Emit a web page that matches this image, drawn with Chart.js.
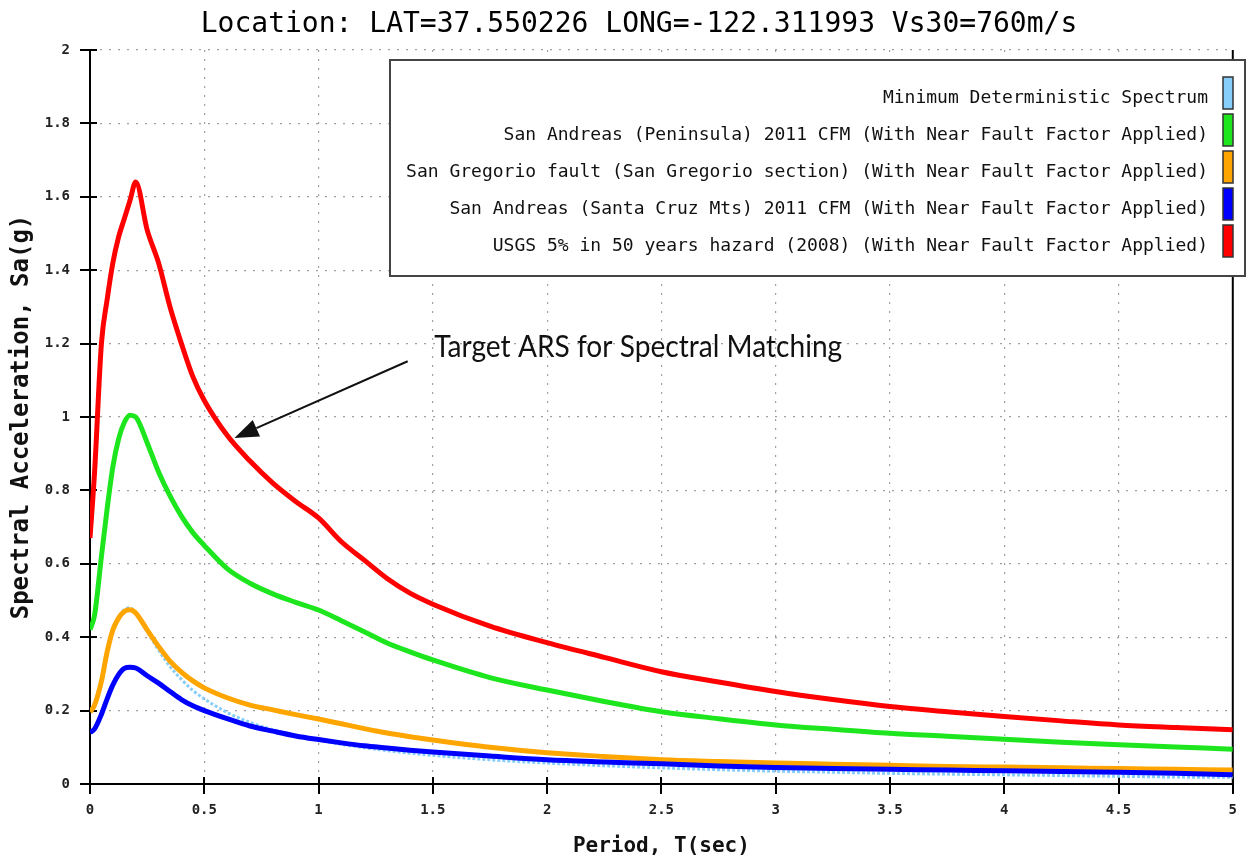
<!DOCTYPE html>
<html><head><meta charset="utf-8">
<script src="https://cdn.jsdelivr.net/npm/chart.js@4.4.1/dist/chart.umd.min.js"></script>
<style>html,body{margin:0;padding:0;background:#fff;}</style>
</head><body>
<canvas id="c" width="1255" height="861"></canvas>
<script>
// ---- DATA ----
const chartTitle = 'Location: LAT=37.550226 LONG=-122.311993 Vs30=760m/s';
const xAxisTitle = 'Period, T(sec)';
const yAxisTitle = 'Spectral Acceleration, Sa(g)';
const xTickValues = [0, 0.5, 1, 1.5, 2, 2.5, 3, 3.5, 4, 4.5, 5];
const yTickValues = [0, 0.2, 0.4, 0.6, 0.8, 1, 1.2, 1.4, 1.6, 1.8, 2];

const periods = [0, 0.02, 0.05, 0.075, 0.1, 0.125, 0.15, 0.175, 0.2, 0.25, 0.3, 0.35, 0.4, 0.45, 0.5,
  0.6, 0.7, 0.8, 0.9, 1.0, 1.1, 1.2, 1.3, 1.4, 1.5, 1.75, 2.0, 2.25, 2.5, 2.75, 3.0, 3.25, 3.5, 3.75,
  4.0, 4.25, 4.5, 4.75, 5.0];

const seriesLabels = [
  'Minimum Deterministic Spectrum',
  'San Andreas (Peninsula) 2011 CFM (With Near Fault Factor Applied)',
  'San Gregorio fault (San Gregorio section) (With Near Fault Factor Applied)',
  'San Andreas (Santa Cruz Mts) 2011 CFM (With Near Fault Factor Applied)',
  'USGS 5% in 50 years hazard (2008) (With Near Fault Factor Applied)'
];

const minDeterministic = [0.20, 0.22, 0.29, 0.36, 0.42, 0.455, 0.475, 0.48, 0.465, 0.415, 0.365, 0.32, 0.285, 0.255, 0.232,
  0.195, 0.168, 0.148, 0.132, 0.12, 0.108, 0.099, 0.091, 0.084, 0.078, 0.066, 0.057, 0.05, 0.044, 0.039, 0.035, 0.032, 0.029, 0.027,
  0.025, 0.023, 0.021, 0.019, 0.018];
const sanAndreasPeninsula = [0.42, 0.46, 0.62, 0.75, 0.864, 0.94, 0.985, 1.005, 1.0, 0.93, 0.85, 0.785, 0.73, 0.685, 0.65,
  0.587, 0.547, 0.518, 0.495, 0.474, 0.445, 0.415, 0.384, 0.36, 0.338, 0.29, 0.256, 0.225, 0.197, 0.178, 0.161, 0.149, 0.138, 0.13,
  0.122, 0.114, 0.107, 0.101, 0.095];
const sanGregorio = [0.196, 0.215, 0.28, 0.36, 0.42, 0.452, 0.47, 0.475, 0.466, 0.42, 0.375, 0.335, 0.305, 0.281, 0.262,
  0.235, 0.215, 0.202, 0.189, 0.177, 0.164, 0.151, 0.139, 0.129, 0.12, 0.10, 0.085, 0.075, 0.066, 0.061, 0.057, 0.054, 0.051, 0.048,
  0.046, 0.044, 0.042, 0.04, 0.038];
const sanAndreasSantaCruz = [0.14, 0.15, 0.19, 0.232, 0.27, 0.298, 0.315, 0.318, 0.316, 0.295, 0.275, 0.252, 0.23, 0.213, 0.20,
  0.178, 0.158, 0.144, 0.131, 0.121, 0.112, 0.104, 0.098, 0.092, 0.087, 0.076, 0.066, 0.06, 0.055, 0.049, 0.045, 0.042, 0.04, 0.038,
  0.036, 0.034, 0.032, 0.029, 0.025];
const usgsHazard = [0.67, 0.85, 1.20, 1.32, 1.42, 1.49, 1.54, 1.59, 1.64, 1.51, 1.42, 1.30, 1.20, 1.11, 1.045,
  0.95, 0.88, 0.82, 0.77, 0.725, 0.66, 0.61, 0.56, 0.52, 0.49, 0.43, 0.385, 0.345, 0.306, 0.278, 0.252, 0.23, 0.211, 0.197,
  0.184, 0.172, 0.161, 0.154, 0.148];

const annotationText = 'Target ARS for Spectral Matching';
const annotationTextAt = [1.506, 1.163];   // [T, Sa] of text baseline start
const arrowFrom = [1.39, 1.152];
const arrowTo = [0.632, 0.943];

// ---- STYLES ----
const MONO = '"DejaVu Sans Mono", "Liberation Mono", monospace';
const colors = ['#87cefa', '#1ee61e', '#ffa500', '#0000ff', '#ff0000'];
const seriesValues = [minDeterministic, sanAndreasPeninsula, sanGregorio, sanAndreasSantaCruz, usgsHazard];
const drawOrder = [10, 4, 3, 2, 1];

const datasets = seriesValues.map((vals, i) => ({
  label: seriesLabels[i],
  data: periods.map((t, k) => ({x: t, y: vals[k]})),
  borderColor: colors[i],
  backgroundColor: colors[i],
  borderWidth: i === 0 ? 3 : 5,
  borderDash: i === 0 ? [3, 2] : [],
  pointRadius: 0,
  fill: false,
  cubicInterpolationMode: 'monotone',
  order: drawOrder[i]
}));

const decorPlugin = {
  id: 'decor',
  beforeDatasetsDraw(chart) {
    const {ctx, chartArea: a, scales: {x, y}} = chart;
    ctx.save();
    ctx.strokeStyle = '#000';
    ctx.lineWidth = 2;
    ctx.beginPath();
    ctx.moveTo(a.right, a.top); ctx.lineTo(a.right, a.bottom);
    ctx.stroke();
    ctx.beginPath();
    yTickValues.forEach(v => {
      const py = Math.round(y.getPixelForValue(v));
      ctx.moveTo(a.left - 10, py); ctx.lineTo(a.left + 7, py);
    });
    xTickValues.forEach(v => {
      const px = Math.round(x.getPixelForValue(v));
      ctx.moveTo(px, a.bottom - 7); ctx.lineTo(px, a.bottom + 10);
    });
    ctx.stroke();
    ctx.restore();
  },
  afterDatasetsDraw(chart) {
    const {ctx, scales: {x, y}} = chart;
    ctx.save();
    const bx = 390, by = 60, bw = 855, bh = 216;
    ctx.fillStyle = '#fff';
    ctx.fillRect(bx, by, bw, bh);
    ctx.strokeStyle = '#444';
    ctx.lineWidth = 2;
    ctx.strokeRect(bx, by, bw, bh);
    ctx.font = '18px ' + MONO;
    ctx.textAlign = 'right';
    ctx.textBaseline = 'middle';
    chart.data.datasets.forEach((ds, i) => {
      const cy = 98 + i * 37;
      ctx.fillStyle = '#111';
      ctx.fillText(ds.label, 1208, cy);
      ctx.fillStyle = ds.borderColor;
      ctx.fillRect(1223, cy - 21, 10, 32);
      ctx.strokeStyle = '#333';
      ctx.lineWidth = 1.5;
      ctx.strokeRect(1223, cy - 21, 10, 32);
    });
    const tx = x.getPixelForValue(annotationTextAt[0]);
    const ty = y.getPixelForValue(annotationTextAt[1]);
    ctx.font = '30px Lato, "Open Sans", sans-serif';
    ctx.textAlign = 'left';
    ctx.textBaseline = 'alphabetic';
    const w = ctx.measureText(annotationText).width;
    const sx = 408 / w;
    ctx.save();
    ctx.translate(tx, ty);
    ctx.scale(sx, 1);
    ctx.fillStyle = '#111';
    ctx.fillText(annotationText, 0, 0);
    ctx.restore();
    const x1 = x.getPixelForValue(arrowFrom[0]), y1 = y.getPixelForValue(arrowFrom[1]);
    const x2 = x.getPixelForValue(arrowTo[0]), y2 = y.getPixelForValue(arrowTo[1]);
    const ang = Math.atan2(y2 - y1, x2 - x1);
    const hl = 24, hw = 9;
    const bxp = x2 - hl * Math.cos(ang), byp = y2 - hl * Math.sin(ang);
    ctx.strokeStyle = '#111';
    ctx.lineWidth = 2;
    ctx.beginPath();
    ctx.moveTo(x1, y1); ctx.lineTo(bxp, byp);
    ctx.stroke();
    ctx.fillStyle = '#111';
    ctx.beginPath();
    ctx.moveTo(x2, y2);
    ctx.lineTo(bxp + hw * Math.sin(ang), byp - hw * Math.cos(ang));
    ctx.lineTo(bxp - hw * Math.sin(ang), byp + hw * Math.cos(ang));
    ctx.closePath();
    ctx.fill();
    ctx.restore();
  }
};

const gridOpts = {
  color: '#a0a0a0',
  lineWidth: 1.2,
  drawTicks: false,
  tickLength: 0
};

new Chart(document.getElementById('c'), {
  type: 'line',
  data: {datasets},
  options: {
    responsive: false,
    animation: false,
    layout: {padding: {left: 26, right: 3, top: 0, bottom: 0}},
    plugins: {
      legend: {display: false},
      tooltip: {enabled: false},
      title: {
        display: true,
        text: chartTitle,
        color: '#000',
        font: {family: MONO, size: 28, weight: 'normal', lineHeight: 1.2},
        padding: {top: 8, bottom: 8.4}
      }
    },
    scales: {
      x: {
        type: 'linear',
        min: 0, max: 5,
        afterBuildTicks: s => { s.ticks = xTickValues.map(v => ({value: v})); },
        afterFit: s => { s.height = 77; },
        grid: {...gridOpts},
        border: {display: true, color: '#000', width: 2, dash: [2, 7]},
        ticks: {
          padding: 18,
          color: '#222',
          font: {family: MONO, size: 14, weight: 'bold'},
          maxRotation: 0,
          callback: v => String(v)
        },
        title: {
          display: true,
          text: xAxisTitle,
          color: '#111',
          font: {family: MONO, size: 21, weight: 'bold', lineHeight: 1.2},
          padding: {top: 0, bottom: 1.4}
        }
      },
      y: {
        type: 'linear',
        min: 0, max: 2,
        afterBuildTicks: s => { s.ticks = yTickValues.map(v => ({value: v})); },
        afterFit: s => { s.width = 64; },
        grid: {...gridOpts},
        border: {display: true, color: '#000', width: 2, dash: [2, 7]},
        ticks: {
          padding: 20,
          color: '#222',
          font: {family: MONO, size: 14, weight: 'bold'},
          callback: v => String(v)
        },
        title: {
          display: true,
          text: yAxisTitle,
          color: '#111',
          font: {family: MONO, size: 24, weight: 'bold', lineHeight: 1.2},
          padding: {top: -18.4, bottom: 0}
        }
      }
    }
  },
  plugins: [decorPlugin]
});
</script>
</body></html>
